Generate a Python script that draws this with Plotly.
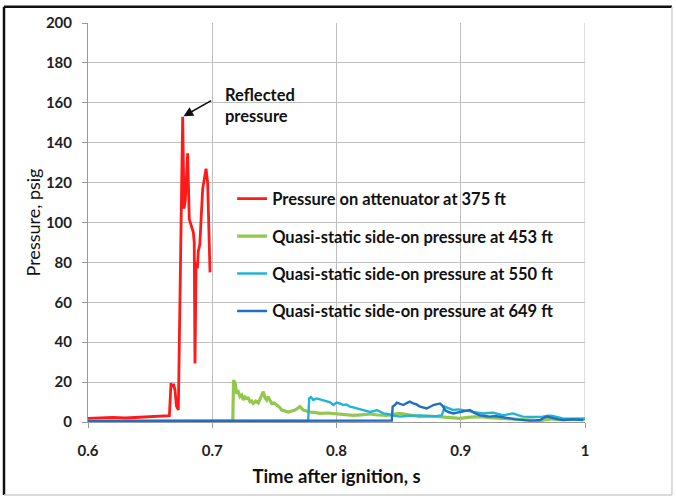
import plotly.graph_objects as go

# ---- data ----
t_red = [0.600, 0.610, 0.620, 0.630, 0.640, 0.650, 0.660, 0.6655, 0.6668, 0.6675, 0.6690, 0.6700, 0.6712,
         0.6727, 0.6762, 0.6768, 0.6773, 0.6783, 0.6790, 0.6802, 0.6815, 0.6830, 0.6848, 0.6855, 0.6861,
         0.6870, 0.6880, 0.6888, 0.6900, 0.6923, 0.6950, 0.6963, 0.6975, 0.6982]
p_red = [1.8, 2.0, 2.3, 2.0, 2.4, 2.7, 3.0, 3.2, 19.5, 18, 18.5, 16, 8,
         6, 153, 125, 107, 111, 120, 134.7, 101.7, 98, 95, 90, 29.3,
         80.3, 77, 85.7, 89, 117, 127, 120, 95, 75]

t_green = [0.600, 0.650, 0.700, 0.7165, 0.7172, 0.7185, 0.7197, 0.7210, 0.7223, 0.7237, 0.7250, 0.7264,
           0.7277, 0.7290, 0.7304, 0.7317, 0.7330, 0.7350, 0.7370, 0.7390, 0.7411, 0.7425, 0.7438, 0.7450,
           0.7465, 0.7478, 0.7498, 0.7518, 0.7540, 0.7559, 0.7585, 0.7612, 0.7640, 0.7666, 0.7690, 0.7706,
           0.7733, 0.7760, 0.7787, 0.7820, 0.7867, 0.7930, 0.8000, 0.8060, 0.8135, 0.8200, 0.8270, 0.8330,
           0.8404, 0.8460, 0.8510, 0.8590, 0.8670, 0.8750, 0.8833, 0.8910, 0.8994, 0.9080, 0.9155, 0.9230,
           0.9316, 0.9400, 0.9480, 0.9560, 0.9638, 0.9720, 0.9800, 0.9880, 0.9960, 1.000]
p_green = [0.3, 0.3, 0.3, 0.3, 21, 19, 14.3, 15, 12.7, 13.5, 11, 12.5,
           11.8, 12, 10.2, 10.5, 9.3, 10.5, 9.5, 12, 15.2, 12, 11, 12.7,
           10.5, 9.3, 9.5, 8.5, 7.5, 6, 5.5, 5, 5.5, 6, 7, 7.7,
           6, 5.5, 5, 4.8, 4.3, 4.5, 4, 3.8, 3.3, 3.6, 4, 3.5,
           3.3, 3.8, 4.3, 3.5, 2.7, 3, 2.7, 2.2, 1.8, 2.4, 2.7, 2.2,
           1.8, 1.5, 1.2, 1.0, 0.7, 1.5, 1.2, 1.3, 1.5, 1.4]

t_cyan = [0.600, 0.700, 0.7772, 0.7780, 0.7795, 0.7813, 0.7840, 0.7867, 0.7895, 0.7920, 0.7950, 0.7974,
          0.8000, 0.8030, 0.8055, 0.8080, 0.8109, 0.8135, 0.8163, 0.8190, 0.8216, 0.8240, 0.8270, 0.8300,
          0.8324, 0.8350, 0.8377, 0.8410, 0.8444, 0.8480, 0.8511, 0.8560, 0.8618, 0.8672, 0.8730, 0.8780,
          0.8847, 0.8860, 0.8873, 0.8900, 0.8940, 0.8980, 0.9020, 0.9060, 0.9100, 0.9140, 0.9180, 0.9220,
          0.9260, 0.9300, 0.9340, 0.9380, 0.9420, 0.9460, 0.9500, 0.9580, 0.9660, 0.9700, 0.9740, 0.9780,
          0.9820, 0.9880, 0.9960, 1.000]
p_cyan = [0.5, 0.5, 0.5, 11.8, 12.5, 11, 11.8, 11.3, 10.8, 10.2, 9.8, 8.5,
          9.7, 9.2, 8.5, 8.8, 7.7, 7.3, 6.8, 6.5, 6, 5.8, 5, 5.5,
          6, 5.2, 4.3, 4, 3.3, 3, 2.7, 3.0, 3.3, 3.3, 3.0, 2.8,
          3.3, 5.5, 7.7, 7, 6, 6.3, 6, 5.6, 5, 4.8, 4.3, 4.5,
          4.7, 4, 3.3, 3.8, 4.3, 3.5, 2.7, 2.5, 2.7, 3.2, 3, 2.4,
          1.8, 1.6, 1.8, 1.7]

t_blue = [0.600, 0.700, 0.800, 0.8445, 0.8452, 0.8470, 0.8485, 0.8510, 0.8538, 0.8565, 0.8590, 0.8618,
          0.8645, 0.8672, 0.8700, 0.8726, 0.8750, 0.8780, 0.8810, 0.8833, 0.8855, 0.8873, 0.8900, 0.8940,
          0.8980, 0.9020, 0.9050, 0.9074, 0.9110, 0.9155, 0.9195, 0.9235, 0.9275, 0.9316, 0.9356, 0.9396,
          0.9437, 0.9477, 0.9517, 0.9557, 0.9600, 0.9638, 0.9665, 0.9692, 0.9720, 0.9745, 0.9785, 0.9826,
          0.9866, 0.9906, 0.9950, 0.9987]
p_blue = [0.5, 0.5, 0.6, 0.7, 7.7, 8.5, 9.7, 9.2, 8.5, 9.5, 10.2, 9.3,
          8.8, 7.7, 7.2, 6.8, 7.5, 8.5, 9, 9.3, 8, 6, 5, 4.3,
          4.8, 5.2, 5.8, 6, 4.5, 3.3, 3, 2.7, 3, 2.7, 2.2, 1.8,
          1.3, 1, 0.8, 0.7, 0.8, 1, 2, 2.7, 2.3, 1.8, 1.3, 1,
          1.2, 1.3, 1.1, 1]

series_names = ["Pressure on attenuator at 375 ft",
                "Quasi-static side-on pressure at 453 ft",
                "Quasi-static side-on pressure at 550 ft",
                "Quasi-static side-on pressure at 649 ft"]
series_colors = ["#FF1A1A", "#92C84E", "#22B4D6", "#1F6FC4"]
series_widths = [2.8, 3.2, 2.4, 2.4]

x_ticks = [0.6, 0.7, 0.8, 0.9, 1.0]
x_ticklabels = ["0.6", "0.7", "0.8", "0.9", "1"]
y_ticks = list(range(0, 201, 20))

FONT = "Lato"

fig = go.Figure()
for i, (t, p) in enumerate([(t_red, p_red), (t_green, p_green), (t_cyan, p_cyan), (t_blue, p_blue)]):
    fig.add_trace(go.Scatter(
        x=t, y=p, mode="lines", name=series_names[i], legendgroup=f"g{i}",
        line=dict(color=series_colors[i], width=series_widths[i]),
    ))

axis_common = dict(
    showgrid=True, gridcolor="#BEBEBE", gridwidth=1,
    showline=True, linecolor="#9A9A9A", linewidth=1,
    ticks="outside", ticklen=5, tickcolor="#9A9A9A",
    zeroline=False, mirror=False,
    tickfont=dict(family=FONT, size=15, color="#222222", weight="bold"),
)

fig.update_layout(
    width=676, height=498,
    margin=dict(l=88, r=91, t=23, b=76),
    paper_bgcolor="white", plot_bgcolor="white",
    showlegend=True,
    legend=dict(
        x=0.29, y=0.603, xanchor="left", yanchor="top",
        bgcolor="rgba(0,0,0,0)", borderwidth=0,
        traceorder="grouped", tracegroupgap=13,
        font=dict(family=FONT, size=16.5, color="#111111", weight="bold"),
    ),
    xaxis=dict(
        range=[0.6, 1.0], tickvals=x_ticks, ticktext=x_ticklabels,
        ticklabelstandoff=10,
        title=dict(text="Time after ignition, s", standoff=12,
                   font=dict(family=FONT, size=18.5, color="#111111", weight="bold")),
        **axis_common,
    ),
    yaxis=dict(
        range=[0, 200], tickvals=y_ticks,
        ticklabelstandoff=7,
        title=dict(text="Pressure, psig", standoff=0,
                   font=dict(family=FONT, size=18, color="#111111")),
        **axis_common,
    ),
)

# right edge line at x = 1
fig.add_shape(type="line", xref="x", yref="y", x0=1.0, x1=1.0, y0=0, y1=200,
              line=dict(color="#BEBEBE", width=1), layer="below")

# outer frame of the figure (dark top/left, light bottom/right)
L, R, B, T = -0.169, 1.175, -0.183, 1.041
fig.add_shape(type="line", xref="paper", yref="paper", x0=L, x1=L, y0=B, y1=T,
              line=dict(color="#111111", width=2.5))
fig.add_shape(type="line", xref="paper", yref="paper", x0=L, x1=R, y0=T, y1=T,
              line=dict(color="#111111", width=2.5))
fig.add_shape(type="line", xref="paper", yref="paper", x0=R, x1=R, y0=B, y1=T,
              line=dict(color="#CFCFCF", width=1.5))
fig.add_shape(type="line", xref="paper", yref="paper", x0=L, x1=R, y0=B, y1=B,
              line=dict(color="#CFCFCF", width=1.5))

# reflected-pressure annotation
fig.add_annotation(x=0.6762, y=153, xref="x", yref="y", text="",
                   showarrow=True, arrowhead=2, arrowsize=1.2, arrowwidth=1.6,
                   arrowcolor="#111111", ax=30, ay=-17, standoff=1)
fig.add_annotation(x=0.7087, y=158.5, xref="x", yref="y",
                   text="Reflected<br>pressure", showarrow=False,
                   xanchor="left", yanchor="middle", align="left",
                   font=dict(family=FONT, size=16.5, color="#111111", weight="bold"))

fig.write_html("out.html", config={"displayModeBar": False},
               post_script="document.body.style.margin='0';")
